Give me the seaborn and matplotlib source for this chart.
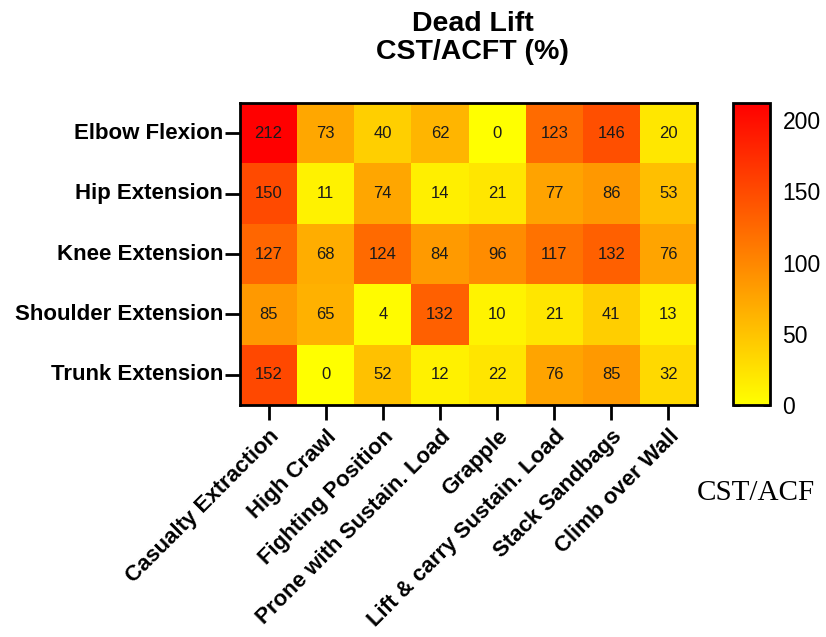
import numpy as np
import pandas as pd
import matplotlib
matplotlib.use("Agg")
import matplotlib.pyplot as plt
from matplotlib.colors import LinearSegmentedColormap
import seaborn as sns

muscles = ["Elbow Flexion", "Hip Extension", "Knee Extension",
           "Shoulder Extension", "Trunk Extension"]
tasks = ["Casualty Extraction", "High Crawl", "Fighting Position",
         "Prone with Sustain. Load", "Grapple", "Lift & carry Sustain. Load",
         "Stack Sandbags", "Climb over Wall"]

elbow_flexion = [212, 73, 40, 62, 0, 123, 146, 20]
hip_extension = [150, 11, 74, 14, 21, 77, 86, 53]
knee_extension = [127, 68, 124, 84, 96, 117, 132, 76]
shoulder_extension = [85, 65, 4, 132, 10, 21, 41, 13]
trunk_extension = [152, 0, 52, 12, 22, 76, 85, 32]

cbar_ticks = [0, 50, 100, 150, 200]

df = pd.DataFrame([elbow_flexion, hip_extension, knee_extension,
                   shoulder_extension, trunk_extension],
                  index=muscles, columns=tasks)

sns.set_theme(style="white")
plt.rcParams["font.family"] = ["Liberation Sans", "DejaVu Sans"]
plt.rcParams["text.color"] = "black"
plt.rcParams["xtick.color"] = "black"
plt.rcParams["ytick.color"] = "black"

cmap = LinearSegmentedColormap.from_list("yellow_red", ["#ffff00", "#ff0000"])

fig = plt.figure(figsize=(8.26, 6.37), dpi=100)
ax = fig.add_axes([0.2906, 0.3642, 0.5533, 0.4741])
cax = fig.add_axes([0.8874, 0.3642, 0.0448, 0.4741])

sns.heatmap(df, ax=ax, cbar_ax=cax, cmap=cmap, vmin=0, vmax=212,
            annot=True, fmt="d", annot_kws={"fontsize": 12, "color": "#1a1a1a"},
            cbar_kws={"ticks": cbar_ticks})

# frame around the grid
for side in ["top", "right", "bottom", "left"]:
    ax.spines[side].set_visible(True)
    ax.spines[side].set_linewidth(2)
    ax.spines[side].set_color("black")
cbar = ax.collections[0].colorbar
cbar.outline.set_linewidth(2)
cbar.outline.set_edgecolor("black")

ax.tick_params(axis="both", which="major", length=11, width=2, color="black",
               bottom=True, left=True, direction="out")
ax.tick_params(axis="y", pad=1)
ax.tick_params(axis="x", pad=4)
ax.set_yticklabels(muscles, rotation=0, fontsize=16, fontweight="bold")
ax.set_xticklabels(tasks, rotation=45, ha="right", rotation_mode="anchor",
                   fontsize=16, fontweight="bold")
ax.set_xlabel("")
ax.set_ylabel("")

cax.tick_params(axis="y", which="major", length=5, width=2, color="black",
                direction="in", left=True, right=True, labelsize=16.5, pad=9)
cax.set_yticklabels([str(t) for t in cbar_ticks])

fig.text(0.572, 0.982, "Dead Lift\nCST/ACFT (%)", ha="center", va="top",
         fontsize=20.5, fontweight="bold", linespacing=1.1)

fig.text(0.843, 0.226, "CST/ACF", ha="left", va="center", fontsize=21,
         family=["Liberation Serif", "DejaVu Serif"])

fig.savefig("out.png", dpi=100)
